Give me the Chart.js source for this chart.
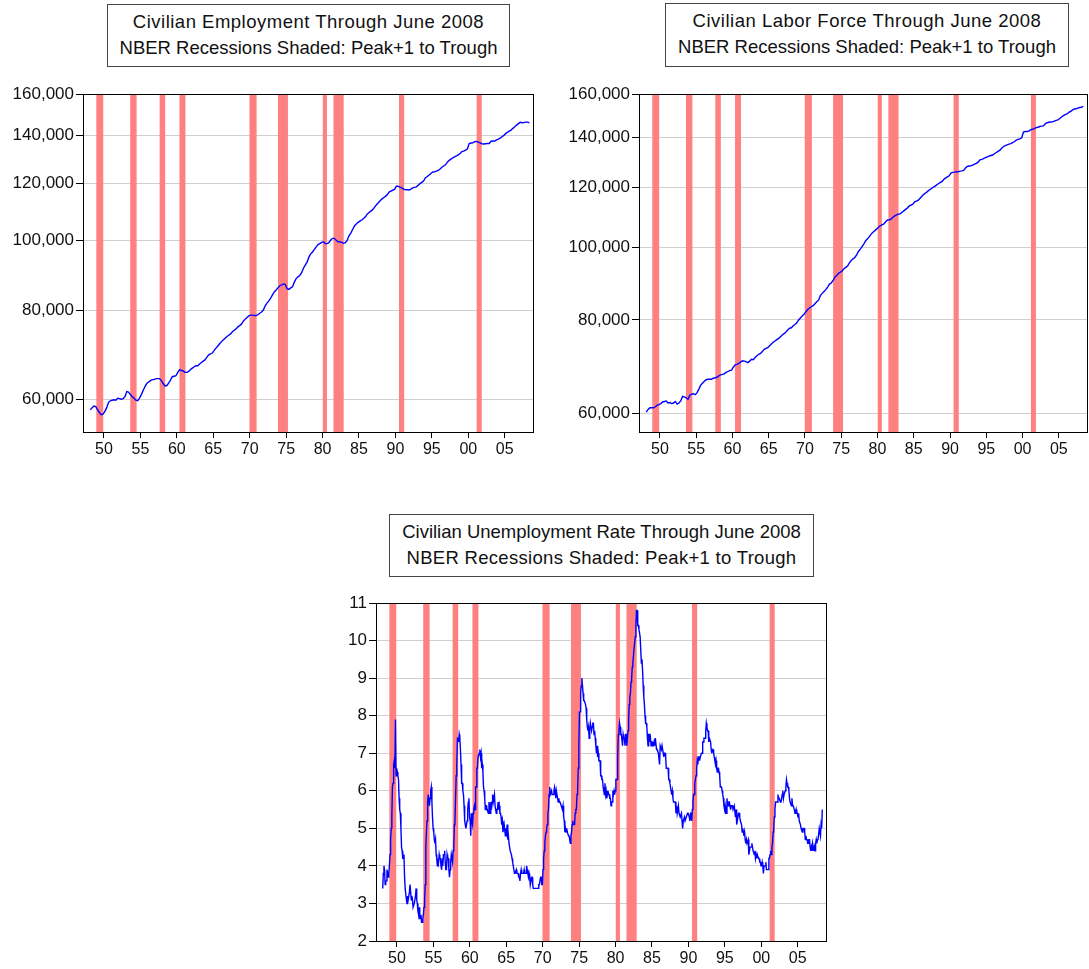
<!DOCTYPE html>
<html>
<head>
<meta charset="utf-8">
<script src="https://cdn.jsdelivr.net/npm/chart.js@4.4.1/dist/chart.umd.min.js"></script>
<style>
body{margin:0;background:#fff;width:1089px;height:969px;position:relative;overflow:hidden;font-family:"Liberation Sans",Arial,sans-serif}
.ttl{position:absolute;border:1px solid #444;box-sizing:border-box;text-align:center;font-size:18.5px;line-height:26px;padding-top:4px;color:#111;background:#fff;white-space:nowrap}
.ttl .l1{letter-spacing:0.5px}
canvas{position:absolute}
</style>
</head>
<body>
<div class="ttl" style="left:107px;top:4px;width:403px;height:63px"><span class="l1">Civilian Employment Through June 2008</span><br>NBER Recessions Shaded: Peak+1 to Trough</div>
<div class="ttl" style="left:665px;top:3px;width:404px;height:64px"><span class="l1">Civilian Labor Force Through June 2008</span><br>NBER Recessions Shaded: Peak+1 to Trough</div>
<div class="ttl" style="left:389px;top:514px;width:425px;height:63px"><span>Civilian Unemployment Rate Through June 2008</span><br><span style="letter-spacing:0.3px">NBER Recessions Shaded: Peak+1 to Trough</span></div>

<canvas id="empChart" width="545" height="385" style="left:0;top:80px"></canvas>
<canvas id="lfChart" width="539" height="385" style="left:550px;top:80px"></canvas>
<canvas id="urChart" width="545" height="379" style="left:290px;top:590px"></canvas>

<script>
// NBER recessions, peak+1 to trough (decimal years)
const recStart = [1948.95, 1953.60, 1957.64, 1960.36, 1969.97, 1973.88, 1980.03, 1981.50, 1990.49, 2001.15];
const recEnd   = [1949.90, 1954.48, 1958.40, 1961.18, 1970.95, 1975.25, 1980.60, 1982.90, 1991.20, 2001.84];

const yearTicks = [1950, 1955, 1960, 1965, 1970, 1975, 1980, 1985, 1990, 1995, 2000, 2005];
const empTicks = [60000, 80000, 100000, 120000, 140000, 160000];
const lfTicks = [60000, 80000, 100000, 120000, 140000, 160000];
const urTicks = [2, 3, 4, 5, 6, 7, 8, 9, 10, 11];

// civilian employment, thousands, quarterly 1948Q1 - 2008Q2
const employment = [
  58100, 58500, 58800, 58700,
  58100, 57600, 57200, 57300,
  57800, 58500, 59500, 59800,
  59900, 60000, 59900, 60300,
  60200, 60100, 60200, 60600,
  61600, 61500, 61000, 60600,
  60300, 59900, 59800, 60300,
  61000, 61800, 62600, 63200,
  63500, 63800, 64000, 64000,
  64200, 64200, 64200, 63800,
  63200, 62700, 62800, 63300,
  63900, 64600, 64700, 64800,
  65500, 66100, 65900, 65800,
  65500, 65500, 65700, 66100,
  66400, 66700, 66900, 66900,
  67300, 67600, 67900, 68200,
  68800, 69300, 69500, 69700,
  70300, 70800, 71300, 71800,
  72300, 72700, 73100, 73500,
  73800, 74100, 74600, 75000,
  75300, 75800, 76100, 76500,
  77200, 77700, 78100, 78500,
  78700, 78700, 78600, 78600,
  78800, 79200, 79500, 80000,
  81100, 81800, 82400, 83100,
  84000, 84800, 85300, 85900,
  86500, 86700, 87000, 86900,
  85700, 85500, 85900, 86200,
  87500, 88500, 89000, 89400,
  90200, 91500, 92400, 93300,
  94800, 95800, 96400, 97200,
  98000, 98700, 99000, 99400,
  99600, 99000, 99000, 99300,
  100200, 100700, 100700, 100100,
  99600, 99600, 99400, 99100,
  99300, 100000, 101500, 102400,
  103600, 104800, 105400, 106000,
  106400, 106800, 107300, 107900,
  108800, 109400, 109900, 110400,
  111200, 112100, 112800, 113500,
  114200, 114700, 115200, 115800,
  116800, 117200, 117500, 117800,
  119000, 119000, 118700, 118400,
  117900, 117700, 117700, 117600,
  117900, 118400, 118600, 118800,
  119400, 120000, 120500, 121100,
  122300, 122800, 123400, 124000,
  124600, 124700, 124900, 125200,
  125800, 126500, 127000, 127500,
  128600, 129300, 129800, 130400,
  130800, 131200, 131600, 132200,
  133000, 133200, 133600, 134100,
  136500, 136700, 136800, 137300,
  137400, 137100, 136800, 136400,
  136300, 136400, 136500, 136500,
  137500, 137600, 137600, 138100,
  138400, 138900, 139500, 140100,
  140900, 141500, 142000, 142500,
  143300, 144000, 144800, 145500,
  146100, 145900, 146000, 146200,
  146200, 145900
];

// civilian labor force, thousands, quarterly 1948Q1 - 2008Q2
const laborForce = [
  60300, 60800, 61100, 61100,
  61100, 61300, 61600, 61700,
  61900, 62200, 62300, 62400,
  62000, 62100, 61900, 62000,
  62300, 61800, 62000, 62400,
  63300, 63200, 63000, 62700,
  63500, 63700, 63800, 63600,
  64000, 64700, 65500, 65900,
  66300, 66600, 66700, 66700,
  66700, 66900, 67000, 67100,
  67400, 67600, 67700, 67800,
  68100, 68300, 68500, 68600,
  69200, 69700, 69800, 70000,
  70300, 70600, 70500, 70400,
  70200, 70500, 70900, 70800,
  71300, 71700, 72000, 72200,
  72600, 73100, 73300, 73500,
  73900, 74300, 74700, 75000,
  75300, 75600, 76000, 76400,
  76700, 77100, 77600, 78000,
  78100, 78600, 78900, 79300,
  80000, 80500, 81000, 81400,
  82000, 82600, 83000, 83300,
  83600, 84100, 84600, 85000,
  86200, 86800, 87300, 87800,
  88500, 89300, 89600, 90300,
  91200, 91700, 92300, 92600,
  93000, 93600, 94000, 94400,
  95300, 96000, 96500, 96900,
  97700, 98700, 99400, 100200,
  101000, 102000, 102600, 103300,
  104100, 104700, 105200, 105700,
  106300, 106800, 107100, 107400,
  108100, 108700, 108800, 109000,
  109600, 110100, 110400, 110700,
  110800, 111300, 111800, 112300,
  112800, 113500, 113800, 114100,
  114900, 115200, 115500, 116200,
  116900, 117600, 118100, 118600,
  119200, 119600, 120100, 120500,
  121000, 121500, 121900, 122300,
  123100, 123600, 124100, 124500,
  125500, 125800, 125900, 126100,
  126000, 126300, 126400, 126600,
  127500, 128100, 128300, 128400,
  128600, 129000, 129300, 129800,
  130700, 130900, 131200, 131600,
  131900, 132200, 132500, 132700,
  133200, 133700, 134200, 134700,
  135500, 136200, 136600, 136900,
  137200, 137400, 137800, 138200,
  138900, 139200, 139400, 139900,
  142400, 142600, 142600, 142800,
  143400, 143600, 143900, 144300,
  144500, 144800, 145000, 145100,
  146000, 146500, 146700, 146800,
  146900, 147200, 147600, 147800,
  148400, 149100, 149700, 150200,
  150500, 151200, 151700, 152300,
  152800, 152900, 153200, 153500,
  153600, 154100
];

// civilian unemployment rate, percent, monthly Jan 1948 - Jun 2008
const unemployment = [
  3.4, 3.8, 4.0, 3.9, 3.5, 3.6, 3.6, 3.9, 3.8, 3.7, 3.8, 4.0,
  4.3, 4.7, 5.0, 5.3, 6.1, 6.2, 6.7, 6.8, 6.6, 7.9, 6.4, 6.6,
  6.5, 6.4, 6.3, 5.8, 5.5, 5.4, 5.0, 4.5, 4.4, 4.2, 4.2, 4.3,
  3.7, 3.4, 3.4, 3.1, 3.0, 3.2, 3.1, 3.1, 3.3, 3.5, 3.5, 3.1,
  3.2, 3.1, 2.9, 2.9, 3.0, 3.0, 3.2, 3.4, 3.1, 3.0, 2.8, 2.7,
  2.9, 2.6, 2.6, 2.7, 2.5, 2.5, 2.6, 2.7, 2.9, 3.1, 3.5, 4.5,
  4.9, 5.2, 5.7, 5.9, 5.9, 5.6, 5.8, 6.0, 6.1, 5.7, 5.3, 5.0,
  4.9, 4.7, 4.6, 4.7, 4.3, 4.2, 4.0, 4.2, 4.1, 4.3, 4.2, 4.2,
  4.0, 3.9, 4.2, 4.0, 4.3, 4.3, 4.4, 4.1, 3.9, 3.9, 4.3, 4.2,
  4.2, 3.9, 3.7, 3.9, 4.1, 4.3, 4.2, 4.1, 4.4, 4.5, 5.1, 5.2,
  5.8, 6.4, 6.7, 7.4, 7.4, 7.3, 7.5, 7.4, 7.1, 6.7, 6.2, 6.2,
  6.0, 5.9, 5.6, 5.2, 5.1, 5.0, 5.1, 5.2, 5.5, 5.7, 5.8, 5.3,
  5.2, 4.8, 5.4, 5.2, 5.1, 5.4, 5.5, 5.6, 5.5, 6.1, 6.1, 6.6,
  6.6, 6.9, 6.9, 7.0, 7.1, 6.9, 7.0, 6.6, 6.7, 6.5, 6.1, 6.0,
  5.8, 5.5, 5.6, 5.6, 5.5, 5.5, 5.4, 5.7, 5.6, 5.4, 5.7, 5.5,
  5.7, 5.9, 5.7, 5.7, 5.9, 5.6, 5.6, 5.4, 5.5, 5.5, 5.7, 5.5,
  5.6, 5.4, 5.4, 5.3, 5.1, 5.2, 4.9, 5.0, 5.1, 5.1, 4.8, 5.0,
  4.9, 5.1, 4.7, 4.8, 4.6, 4.6, 4.4, 4.4, 4.3, 4.2, 4.1, 4.0,
  4.0, 3.8, 3.8, 3.8, 3.9, 3.8, 3.8, 3.8, 3.7, 3.7, 3.6, 3.8,
  3.9, 3.8, 3.8, 3.8, 3.8, 3.9, 3.8, 3.8, 3.8, 4.0, 3.9, 3.8,
  3.7, 3.8, 3.7, 3.5, 3.5, 3.7, 3.7, 3.5, 3.4, 3.4, 3.4, 3.4,
  3.4, 3.4, 3.4, 3.4, 3.4, 3.5, 3.5, 3.5, 3.7, 3.7, 3.5, 3.5,
  3.9, 4.2, 4.4, 4.6, 4.8, 4.9, 5.0, 5.1, 5.4, 5.5, 5.9, 6.1,
  5.9, 5.9, 6.0, 5.9, 5.9, 5.9, 6.0, 6.1, 6.0, 5.8, 6.0, 6.0,
  5.8, 5.7, 5.8, 5.7, 5.7, 5.7, 5.6, 5.6, 5.5, 5.6, 5.3, 5.2,
  4.9, 5.0, 4.9, 5.0, 4.9, 4.9, 4.8, 4.8, 4.8, 4.6, 4.8, 4.9,
  5.1, 5.2, 5.1, 5.1, 5.1, 5.4, 5.5, 5.5, 5.9, 6.0, 6.6, 7.2,
  8.1, 8.1, 8.6, 8.8, 9.0, 8.8, 8.6, 8.4, 8.4, 8.4, 8.3, 8.2,
  7.9, 7.7, 7.6, 7.7, 7.4, 7.6, 7.8, 7.8, 7.6, 7.7, 7.8, 7.8,
  7.5, 7.6, 7.4, 7.2, 7.0, 7.2, 6.9, 7.0, 6.8, 6.8, 6.8, 6.4,
  6.4, 6.3, 6.3, 6.1, 6.0, 5.9, 6.2, 5.9, 6.0, 5.8, 5.9, 6.0,
  5.9, 5.9, 5.8, 5.8, 5.6, 5.7, 5.7, 6.0, 5.9, 6.0, 5.9, 6.0,
  6.3, 6.3, 6.3, 6.9, 7.5, 7.6, 7.8, 7.7, 7.5, 7.5, 7.5, 7.2,
  7.5, 7.4, 7.4, 7.2, 7.5, 7.5, 7.2, 7.4, 7.6, 7.9, 8.3, 8.5,
  8.6, 8.9, 9.0, 9.3, 9.4, 9.6, 9.8, 9.8, 10.1, 10.4, 10.8, 10.8,
  10.4, 10.4, 10.3, 10.2, 10.1, 10.1, 9.4, 9.5, 9.2, 8.8, 8.5, 8.3,
  8.0, 7.8, 7.8, 7.7, 7.4, 7.2, 7.5, 7.5, 7.3, 7.4, 7.2, 7.3,
  7.3, 7.2, 7.2, 7.3, 7.2, 7.4, 7.4, 7.1, 7.1, 7.1, 7.0, 7.0,
  6.7, 7.2, 7.2, 7.1, 7.2, 7.2, 7.0, 6.9, 7.0, 7.0, 6.9, 6.6,
  6.6, 6.6, 6.6, 6.3, 6.3, 6.2, 6.1, 6.0, 5.9, 6.0, 5.8, 5.7,
  5.7, 5.7, 5.7, 5.4, 5.6, 5.4, 5.4, 5.6, 5.4, 5.4, 5.3, 5.3,
  5.4, 5.2, 5.0, 5.2, 5.2, 5.3, 5.2, 5.2, 5.3, 5.3, 5.4, 5.4,
  5.4, 5.3, 5.2, 5.4, 5.4, 5.2, 5.5, 5.7, 5.9, 5.9, 6.2, 6.3,
  6.4, 6.6, 6.8, 6.7, 6.9, 6.9, 6.8, 6.9, 6.9, 7.0, 7.0, 7.3,
  7.3, 7.4, 7.4, 7.4, 7.6, 7.8, 7.7, 7.6, 7.6, 7.3, 7.4, 7.4,
  7.3, 7.1, 7.0, 7.1, 7.1, 7.0, 6.9, 6.8, 6.7, 6.8, 6.6, 6.5,
  6.6, 6.6, 6.5, 6.4, 6.1, 6.1, 6.1, 6.0, 5.9, 5.8, 5.6, 5.5,
  5.6, 5.4, 5.4, 5.8, 5.6, 5.6, 5.7, 5.7, 5.6, 5.5, 5.6, 5.6,
  5.6, 5.5, 5.5, 5.6, 5.6, 5.3, 5.5, 5.1, 5.2, 5.2, 5.4, 5.4,
  5.3, 5.2, 5.2, 5.1, 4.9, 5.0, 4.9, 4.8, 4.9, 4.7, 4.6, 4.7,
  4.6, 4.6, 4.7, 4.3, 4.4, 4.5, 4.5, 4.5, 4.6, 4.5, 4.4, 4.4,
  4.3, 4.4, 4.2, 4.3, 4.2, 4.3, 4.3, 4.2, 4.2, 4.1, 4.1, 4.0,
  4.0, 4.1, 4.0, 3.8, 4.0, 4.0, 4.0, 4.1, 3.9, 3.9, 3.9, 3.9,
  4.2, 4.2, 4.3, 4.4, 4.3, 4.5, 4.6, 4.9, 5.0, 5.3, 5.5, 5.7,
  5.7, 5.7, 5.7, 5.9, 5.8, 5.8, 5.8, 5.7, 5.7, 5.7, 5.9, 6.0,
  5.8, 5.9, 5.9, 6.0, 6.1, 6.3, 6.2, 6.1, 6.1, 6.0, 5.8, 5.7,
  5.7, 5.6, 5.8, 5.6, 5.6, 5.6, 5.5, 5.4, 5.4, 5.5, 5.4, 5.4,
  5.3, 5.4, 5.2, 5.2, 5.1, 5.0, 5.0, 4.9, 5.0, 5.0, 5.0, 4.9,
  4.7, 4.8, 4.7, 4.7, 4.6, 4.6, 4.7, 4.7, 4.5, 4.4, 4.5, 4.4,
  4.6, 4.5, 4.4, 4.5, 4.4, 4.6, 4.7, 4.6, 4.7, 4.7, 4.7, 5.0,
  5.0, 4.8, 5.1, 5.0, 5.5, 5.5
];

const FONT = '"Liberation Sans", Arial, sans-serif';
const X_MIN = 1947.12, X_MAX = 2009.02;

// shade recessions under the line, then box the plot
const recessionShade = {
  id: 'recessionShade',
  beforeDatasetsDraw(chart){
    const {ctx, chartArea: a, scales: {x}} = chart;
    ctx.save();
    ctx.fillStyle = '#ff8080';
    recStart.forEach((s, i)=>{
      const x0 = x.getPixelForValue(s), x1 = x.getPixelForValue(recEnd[i]);
      ctx.fillRect(x0, a.top, x1 - x0, a.bottom - a.top);
    });
    ctx.restore();
  },
  afterDraw(chart){
    const {ctx, chartArea: a} = chart;
    ctx.save();
    ctx.strokeStyle = '#000'; ctx.lineWidth = 1;
    ctx.strokeRect(a.left + 0.5, a.top + 0.5, a.right - a.left - 1, a.bottom - a.top);
    ctx.restore();
  }
};

function quarterly(vals){ return vals.map((v, i)=>({x: 1948 + (3*i + 1.5)/12, y: v})); }
function monthly(vals){ return vals.map((v, i)=>({x: 1948 + (i + 0.5)/12, y: v})); }

function makeChart(id, cfg){
  return new Chart(document.getElementById(id), {
    type: 'line',
    data: { datasets: [{ data: cfg.points, borderColor: '#0000ff', borderWidth: 1.4, pointRadius: 0, tension: 0, fill: false }] },
    options: {
      responsive: false, animation: false,
      layout: { autoPadding: false, padding: { top: cfg.padTop, right: cfg.padRight, left: 0, bottom: 0 } },
      plugins: { legend: { display: false }, tooltip: { enabled: false } },
      scales: {
        x: {
          type: 'linear', min: X_MIN, max: X_MAX,
          afterBuildTicks: ax=>{ ax.ticks = yearTicks.map(v=>({value: v})); },
          afterFit: ax=>{ ax.height = cfg.xH; },
          grid: { drawOnChartArea: false, drawTicks: true, tickLength: 6, tickColor: '#000' },
          border: { display: false },
          ticks: { color: '#111', font: { family: FONT, size: 16 }, padding: 2, maxRotation: 0, autoSkip: false,
                   callback: v=>String(v % 100).padStart(2, '0') }
        },
        y: {
          type: cfg.log ? 'logarithmic' : 'linear', min: cfg.yMin, max: cfg.yMax,
          afterBuildTicks: ax=>{ ax.ticks = cfg.yTicks.map(v=>({value: v})); },
          afterFit: ax=>{ ax.width = cfg.yW; },
          grid: { color: '#cfcfcf', tickColor: '#000', tickLength: 7 },
          border: { display: false },
          ticks: { color: '#111', font: { family: FONT, size: 17 }, padding: 2, autoSkip: false,
                   callback: v=>v.toLocaleString('en-US') }
        }
      }
    },
    plugins: [recessionShade]
  });
}

makeChart('empChart', { points: quarterly(employment), log: true, yMin: 54100, yMax: 160000, yTicks: empTicks,
  yW: 83, xH: 33, padTop: 14, padRight: 11 });
makeChart('lfChart', { points: quarterly(laborForce), log: true, yMin: 56730, yMax: 160000, yTicks: lfTicks,
  yW: 89, xH: 33, padTop: 14, padRight: 1 });
makeChart('urChart', { points: monthly(unemployment), log: false, yMin: 2, yMax: 11, yTicks: urTicks,
  yW: 86, xH: 28, padTop: 13, padRight: 8 });
</script>
</body>
</html>
